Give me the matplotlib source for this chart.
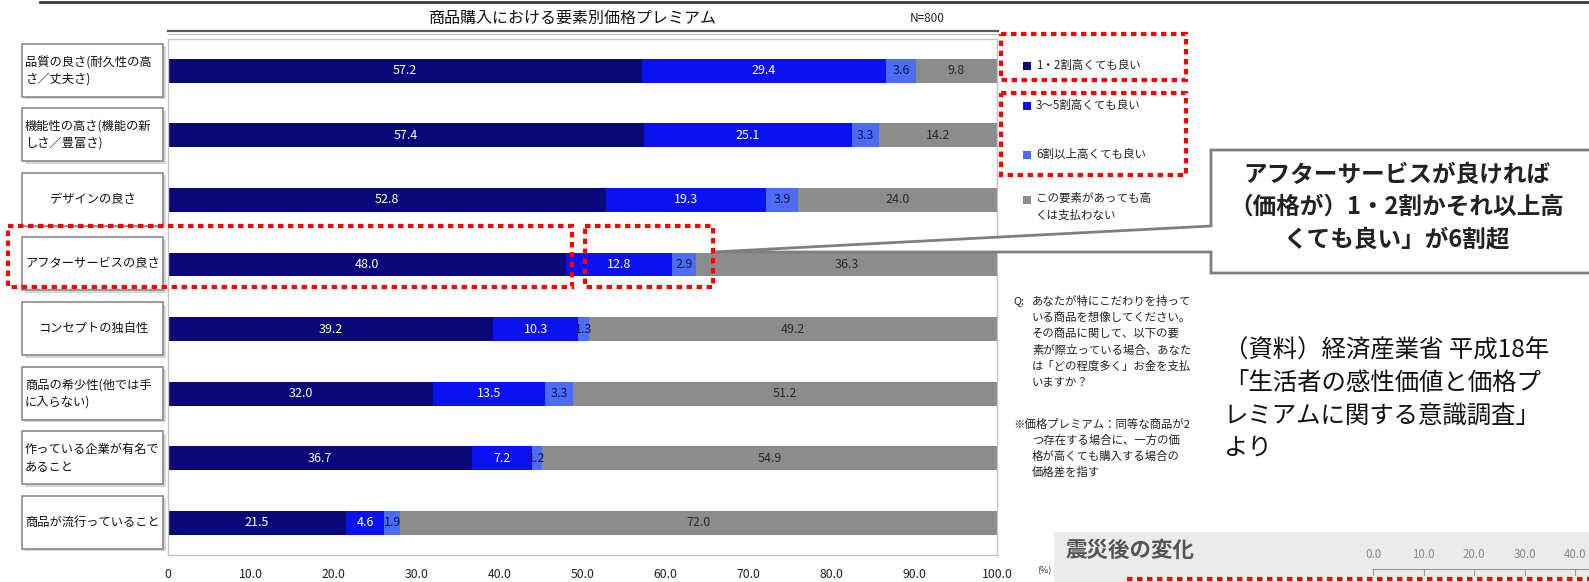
import numpy as np
import matplotlib
matplotlib.use('Agg')
import matplotlib.pyplot as plt
from matplotlib.patches import Rectangle, Polygon

plt.rcParams['font.family'] = ['Noto Sans CJK JP', 'DejaVu Sans']
NARROW = ['Liberation Sans Narrow', 'Noto Sans CJK JP', 'DejaVu Sans']

# 要素別価格プレミアム (N=800)
categories = ['品質の良さ(耐久性の高\nさ／丈夫さ)',
              '機能性の高さ(機能の新\nしさ／豊富さ)',
              'デザインの良さ',
              'アフターサービスの良さ',
              'コンセプトの独自性',
              '商品の希少性(他では手\nに入らない)',
              '作っている企業が有名で\nあること',
              '商品が流行っていること']
pct_1_2 = [57.2, 57.4, 52.8, 48.0, 39.2, 32.0, 36.7, 21.5]
pct_3_5 = [29.4, 25.1, 19.3, 12.8, 10.3, 13.5, 7.2, 4.6]
pct_6up = [3.6, 3.3, 3.9, 2.9, 1.3, 3.3, 1.2, 1.9]
pct_none = [9.8, 14.2, 24.0, 36.3, 49.2, 51.2, 54.9, 72.0]

series_names = ['1・2割高くても良い', '3～5割高くても良い', '6割以上高くても良い',
                'この要素があっても高\nくは支払わない']
bar_colors = ['#08087a', '#0a12f2', '#4d6cf6', '#8c8c8c']
label_colors = ['white', 'white', '#14144a', '#2b2b2b']

xticks = [0, 10, 20, 30, 40, 50, 60, 70, 80, 90, 100]
xtick_labels = ['0', '10.0', '20.0', '30.0', '40.0', '50.0', '60.0', '70.0',
                '80.0', '90.0', '100.0']

W, H = 1589, 582
fig = plt.figure(figsize=(W / 100, H / 100), dpi=100)
fig.patch.set_facecolor('white')

# --- main stacked bar chart ---
ax = fig.add_axes([168 / W, 1 - 555 / H, (997 - 168) / W, (555 - 38.5) / H])
y = np.arange(len(categories))
left = np.zeros(len(categories))
for vals, col, tcol in zip([pct_1_2, pct_3_5, pct_6up, pct_none], bar_colors, label_colors):
    vals = np.array(vals)
    ax.barh(y, vals, left=left, height=0.37, color=col, edgecolor='none')
    for yi, l, v in zip(y, left, vals):
        ax.text(l + v / 2, yi, f'{v:.1f}', ha='center', va='center',
                color=tcol, fontsize=9, family=NARROW)
    left += vals

ax.set_xlim(0, 100)
ax.set_ylim(len(categories) - 0.5, -0.5)
ax.set_yticks([])
ax.set_xticks(xticks)
ax.set_xticklabels(xtick_labels, fontsize=8.8, color='#222222', family=NARROW)
ax.tick_params(axis='x', length=0, pad=9)
for s in ax.spines.values():
    s.set_color('#c4c4c4')
    s.set_linewidth(1)

# --- overlay in pixel coordinates for slide decorations ---
ov = fig.add_axes([0, 0, 1, 1], zorder=5)
ov.set_xlim(0, W)
ov.set_ylim(H, 0)
ov.axis('off')

ov.plot([40, W], [2, 2], color='#3a3a3a', lw=2)
ov.text(573, 18, '商品購入における要素別価格プレミアム', ha='center', va='center',
        fontsize=11.5, color='#111111')
ov.text(927, 19, 'N=800', ha='center', va='center', fontsize=8.5, color='#222222')
ov.plot([168, 998], [31, 31], color='#5a5a5a', lw=1.6)
ov.plot([168, 998], [33.5, 33.5], color='#bdbdbd', lw=0.8)

# category label boxes
row_h = (555 - 38.5) / len(categories)
for i, cat in enumerate(categories):
    cy = 38.5 + row_h * (i + 0.5)
    ov.add_patch(Rectangle((25, cy - 24.5), 141, 53, fc='#d6d6d6', ec='none'))
    ov.add_patch(Rectangle((22, cy - 27), 141, 53, fc='white', ec='#8a8a8a', lw=1.2))
    if '\n' in cat:
        ov.text(25, cy - 0.5, cat, ha='left', va='center', fontsize=8.8,
                linespacing=1.4, color='#111111')
    else:
        ov.text(93, cy - 0.5, cat, ha='center', va='center', fontsize=8.8,
                color='#111111')

ov.text(1044, 571, '(%)', ha='center', va='center', fontsize=6.5, color='#333333')

# legend
leg_y = [66, 106, 155, 200]
for name, col, ly in zip(series_names, bar_colors, leg_y):
    ov.add_patch(Rectangle((1023, ly - 4), 8, 8, fc=col, ec='none'))
    ov.text(1036, ly - 0.5, name, ha='left', va='top' if '\n' in name else 'center',
            fontsize=8.3, color='#222222', linespacing=1.35)
ov.texts[-1].set_y(192)

# question text
q_lines = ['あなたが特にこだわりを持って', 'いる商品を想像してください。',
           'その商品に関して、以下の要', '素が際立っている場合、あなた',
           'は「どの程度多く」お金を支払', 'いますか？']
ov.text(1013, 301, 'Q:', ha='left', va='center', fontsize=7.8, color='#222222')
for k, line in enumerate(q_lines):
    ov.text(1032, 301 + 16.3 * k, line, ha='left', va='center', fontsize=8.2,
            color='#222222')
n_lines = ['※価格プレミアム：同等な商品が2', 'つ存在する場合に、一方の価',
           '格が高くても購入する場合の', '価格差を指す']
for k, line in enumerate(n_lines):
    ov.text(1013 if k == 0 else 1032, 424 + 16 * k, line, ha='left', va='center',
            fontsize=8.2, color='#222222')

# source note
src_lines = ['（資料）経済産業省 平成18年', '「生活者の感性価値と価格プ',
             'レミアムに関する意識調査」', 'より']
for k, line in enumerate(src_lines):
    ov.text(1224, 350 + 32.7 * k, line, ha='left', va='center', fontsize=17.6,
            color='#111111')

# callout
callout = Polygon([(1211, 150), (1600, 150), (1600, 273), (1211, 273), (1211, 252),
                   (713, 252), (1211, 226)], closed=True, fc='white', ec='#7f7f7f',
                  lw=2, joinstyle='miter')
ov.add_patch(callout)
for k, line in enumerate(['アフターサービスが良ければ', '（価格が）1・2割かそれ以上高',
                          'くても良い」が6割超']):
    ov.text(1397, 175 + 32 * k, line, ha='center', va='center', fontsize=17,
            fontweight='bold', color='#222222')

# red dotted highlight boxes
red_boxes = [(1001, 34, 185, 46), (1001, 93, 185, 82), (8, 226, 564, 61), (585, 226, 128, 61)]
for bx, by, bw, bh in red_boxes:
    ov.add_patch(Rectangle((bx, by), bw, bh, fill=False, ec='#ff0000', lw=3,
                           ls=(0, (1.3, 1.1))))

# next-panel header strip
ov.add_patch(Rectangle((1054, 532), 560, 60, fc='#ebebeb', ec='none'))
ov.text(1066, 550, '震災後の変化', ha='left', va='center', fontsize=15.5,
        fontweight='bold', color='#555555')
panel_ticks = ['0.0', '10.0', '20.0', '30.0', '40.0']
for k, t in enumerate(panel_ticks):
    px = 1373 + 50.5 * k
    ov.text(px, 555, t, ha='center', va='center', fontsize=8.3, color='#8a8a8a',
            family=NARROW)
    ov.plot([px, px], [569, 575], color='#999999', lw=0.8)
ov.plot([1373, W], [569, 569], color='#999999', lw=0.8)
ov.plot([1127, W], [579, 579], color='#ff0000', lw=3, ls=(0, (1.3, 1.1)))

fig.savefig('out.png', dpi=100)
